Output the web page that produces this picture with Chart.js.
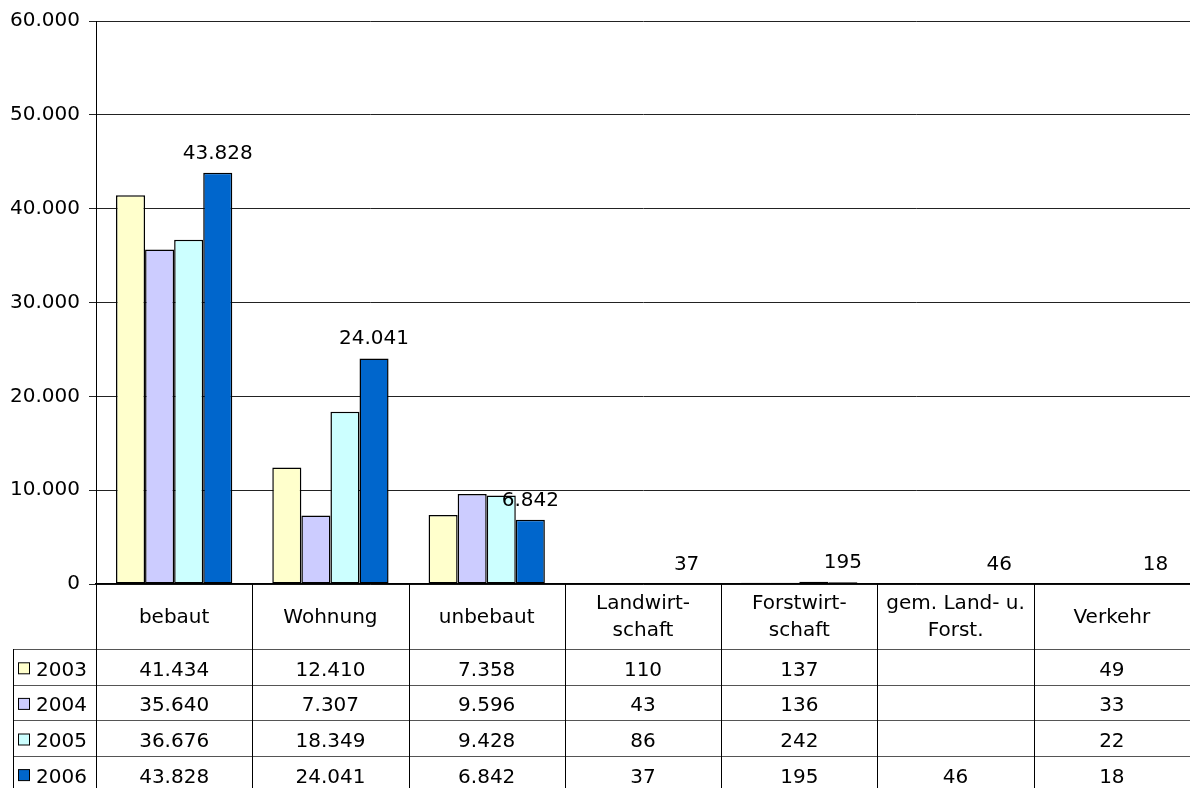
<!DOCTYPE html>
<html><head><meta charset="utf-8">
<script src="https://cdn.jsdelivr.net/npm/chart.js@4"></script>
<style>html,body{margin:0;padding:0;background:#fff;overflow:hidden}</style>
</head><body>
<canvas id="c" width="1190" height="788"></canvas>
<script>
const categories = [['bebaut'],['Wohnung'],['unbebaut'],['Landwirt-','schaft'],['Forstwirt-','schaft'],['gem. Land- u.','Forst.'],['Verkehr']];
const seriesNames = ['2003','2004','2005','2006'];
const values2003 = [41434, 12410, 7358, 110, 137, null, 49];
const values2004 = [35640, 7307, 9596, 43, 136, null, 33];
const values2005 = [36676, 18349, 9428, 86, 242, null, 22];
const values2006 = [43828, 24041, 6842, 37, 195, 46, 18];
const seriesColors = ['#FFFFCC', '#CCCCFF', '#CCFFFF', '#0066CC'];
const yTicks = [0, 10000, 20000, 30000, 40000, 50000, 60000];
const labeledSeries = 3;

const FONT = '"DejaVu Sans", Verdana, sans-serif';
function fmt(v) {
  if (v === null || v === undefined) return '';
  return String(v).replace(/\B(?=(\d{3})+(?!\d))/g, '.');
}
const allValues = [values2003, values2004, values2005, values2006];

const labelPlugin = {
  id: 'labels2006',
  afterDatasetsDraw(chart) {
    const ctx = chart.ctx;
    const meta = chart.getDatasetMeta(labeledSeries);
    ctx.save();
    ctx.font = '20px ' + FONT;
    ctx.fillStyle = '#000';
    ctx.textAlign = 'center';
    ctx.textBaseline = 'alphabetic';
    meta.data.forEach((bar, i) => {
      const v = allValues[labeledSeries][i];
      if (v === null) return;
      ctx.fillText(fmt(v), bar.x, bar.y - 14);
    });
    ctx.restore();
  }
};

const tablePlugin = {
  id: 'dataTable',
  afterDraw(chart) {
    const ctx = chart.ctx;
    const xs = chart.scales.x;
    const area = chart.chartArea;
    const n = categories.length;
    const step = xs.getPixelForValue(1) - xs.getPixelForValue(0);
    const top = area.bottom;
    const headerBottom = top + 65;
    const rowH = 35.6;
    const legendLeft = 13;
    const bottom = chart.height;
    ctx.save();
    // horizontal row lines
    ctx.strokeStyle = '#555';
    ctx.lineWidth = 1.2;
    for (let r = 0; r <= seriesNames.length; r++) {
      const y = Math.round(headerBottom + r * rowH) + 0.5;
      ctx.beginPath();
      ctx.moveTo(legendLeft, y);
      ctx.lineTo(area.right, y);
      ctx.stroke();
    }
    // vertical lines
    ctx.strokeStyle = '#000';
    ctx.lineWidth = 1;
    for (let i = 0; i <= n; i++) {
      const x = Math.round(xs.getPixelForValue(i) - step / 2) + 0.5;
      ctx.beginPath();
      ctx.moveTo(x, top);
      ctx.lineTo(x, bottom);
      ctx.stroke();
    }
    ctx.beginPath();
    ctx.moveTo(legendLeft + 0.5, headerBottom);
    ctx.lineTo(legendLeft + 0.5, bottom);
    ctx.stroke();
    // header text
    ctx.font = '20px ' + FONT;
    ctx.fillStyle = '#000';
    ctx.textAlign = 'center';
    ctx.textBaseline = 'middle';
    const hc = (top + headerBottom) / 2;
    categories.forEach((lines, i) => {
      const cx = xs.getPixelForValue(i);
      const lh = 27;
      lines.forEach((t, k) => {
        const y = hc + (k - (lines.length - 1) / 2) * lh + 1;
        ctx.fillText(t, cx, y);
      });
    });
    // rows
    ctx.textBaseline = 'alphabetic';
    seriesNames.forEach((name, r) => {
      const cy = headerBottom + r * rowH + rowH / 2 + 1;
      // legend key
      ctx.fillStyle = seriesColors[r];
      ctx.fillRect(18.5, cy - 5, 11, 11);
      ctx.strokeStyle = '#000';
      ctx.lineWidth = 1;
      ctx.strokeRect(18.5, cy - 5, 11, 11);
      ctx.fillStyle = '#000';
      ctx.textAlign = 'left';
      ctx.fillText(name, 36, cy + 8);
      ctx.textAlign = 'center';
      allValues[r].forEach((v, i) => {
        ctx.fillText(fmt(v), xs.getPixelForValue(i), cy + 8);
      });
    });
    ctx.restore();
  }
};

new Chart(document.getElementById('c'), {
  type: 'bar',
  data: {
    labels: categories.map(c => c.join(' ')),
    datasets: seriesNames.map((name, i) => ({
      label: name,
      data: allValues[i],
      backgroundColor: seriesColors[i],
      borderColor: '#000',
      borderWidth: 1.5,
      borderSkipped: false,
      barPercentage: 1,
      categoryPercentage: 0.744
    }))
  },
  options: {
    responsive: false,
    animation: false,
    devicePixelRatio: 1,
    layout: { padding: { top: 20, bottom: 204, left: 0, right: 0 } },
    plugins: { legend: { display: false }, tooltip: { enabled: false } },
    scales: {
      x: {
        ticks: { display: false },
        grid: { display: false },
        border: { display: true, color: '#000', width: 1.5 },
        afterFit(s) { s.height = 0; }
      },
      y: {
        min: 0, max: 60000,
        afterBuildTicks(s) { s.ticks = yTicks.map(v => ({ value: v })); },
        ticks: {
          font: { family: FONT, size: 20 },
          color: '#000',
          padding: 9,
          callback: v => fmt(v)
        },
        grid: { color: '#222', lineWidth: 1, tickLength: 7 },
        border: { display: true, color: '#000', width: 1 },
        afterFit(s) { s.width = 96; }
      }
    }
  },
  plugins: [labelPlugin, tablePlugin]
});
</script>
</body></html>
